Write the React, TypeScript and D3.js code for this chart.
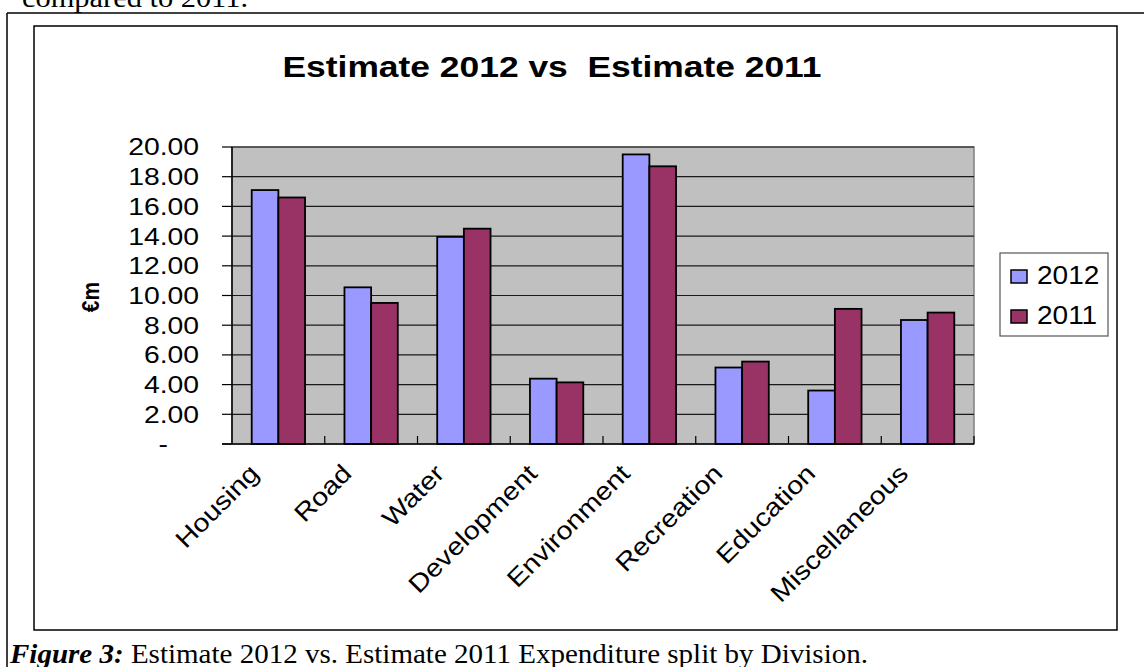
import React from "react";
import * as d3 from "d3";

const categories = ["Housing", "Road", "Water", "Development", "Environment", "Recreation", "Education", "Miscellaneous"];
const values2012 = [17.1, 10.55, 13.95, 4.4, 19.5, 5.15, 3.6, 8.35];
const values2011 = [16.6, 9.5, 14.5, 4.15, 18.7, 5.55, 9.1, 8.85];
const seriesNames = ["2012", "2011"];
const seriesColors = ["#9999FF", "#993366"];
const yTicks = [0, 2, 4, 6, 8, 10, 12, 14, 16, 18, 20];
const titleText = "Estimate 2012 vs  Estimate 2011";
const yAxisLabel = "€m";
const captionBold = "Figure 3:";
const captionRest = " Estimate 2012 vs. Estimate 2011 Expenditure split by Division.";
const topText = "compared to 2011.";

const W = 1144;
const H = 667;
const plot = { left: 232, right: 974, top: 147, bottom: 444 };
const SX = 1.18;
const ARIAL = "Arial, 'Liberation Sans', sans-serif";
const TIMES = "'Times New Roman', 'Liberation Serif', serif";

export default function App() {
  const x = d3.scaleBand<string>().domain(categories).range([plot.left, plot.right]).padding(0);
  const y = d3.scaleLinear().domain([0, 20]).range([plot.bottom, plot.top]);
  const step = x.step();
  const bw = step * 0.2875;
  const groupOffset = (step - 2 * bw) / 2;
  const series = [values2012, values2011];

  return (
    <svg width={W} height={H} style={{ position: "absolute", left: 0, top: 0, background: "#fff" }}>
      {/* page text above */}
      <text x={22} y={7} fontFamily={TIMES} fontSize={27} textLength={226} lengthAdjust="spacingAndGlyphs" fill="#000">
        {topText}
      </text>
      {/* outer page frame */}
      <line x1={7} y1={13} x2={W} y2={13} stroke="#000" strokeWidth={1.5} />
      <line x1={7} y1={13} x2={7} y2={H} stroke="#000" strokeWidth={1.5} />
      {/* chart frame */}
      <rect x={34} y={26} width={1117 - 34} height={630 - 26} fill="#fff" stroke="#000" strokeWidth={1.5} />

      {/* title */}
      <text
        transform={`translate(552,77) scale(${SX},1)`}
        textAnchor="middle"
        fontFamily={ARIAL}
        fontWeight="bold"
        fontSize={30}
        fill="#000"
        style={{ whiteSpace: "pre" }}
      >
        {titleText}
      </text>

      {/* plot area */}
      <rect x={plot.left} y={plot.top} width={plot.right - plot.left} height={plot.bottom - plot.top} fill="#C0C0C0" stroke="#808080" strokeWidth={1.5} />
      {yTicks.filter((t) => t > 0).map((t) => (
        <line key={"g" + t} x1={plot.left} x2={plot.right} y1={y(t)} y2={y(t)} stroke="#1a1a1a" strokeWidth={1.2} />
      ))}

      {/* bars */}
      {categories.map((c, ci) =>
        series.map((vals, si) => (
          <rect
            key={c + si}
            x={(x(c) as number) + groupOffset + si * bw}
            y={y(vals[ci])}
            width={bw}
            height={plot.bottom - y(vals[ci])}
            fill={seriesColors[si]}
            stroke="#000"
            strokeWidth={1.8}
          />
        ))
      )}

      {/* axes */}
      <line x1={plot.left} x2={plot.left} y1={plot.top} y2={plot.bottom} stroke="#000" strokeWidth={1.5} />
      <line x1={plot.left - 10} x2={plot.right} y1={plot.bottom} y2={plot.bottom} stroke="#000" strokeWidth={1.5} />
      {yTicks.map((t) => (
        <line key={"yt" + t} x1={plot.left - 10} x2={plot.left} y1={y(t)} y2={y(t)} stroke="#000" strokeWidth={1.2} />
      ))}
      {categories.map((c, i) =>
        i === 0 ? null : (
          <line key={"xt" + c} x1={x(c) as number} x2={x(c) as number} y1={plot.bottom} y2={plot.bottom - 8} stroke="#000" strokeWidth={1.2} />
        )
      )}
      <line x1={plot.right} x2={plot.right} y1={plot.bottom} y2={plot.bottom - 8} stroke="#000" strokeWidth={1.2} />

      {/* y tick labels */}
      {yTicks.map((t) => (
        <text
          key={"yl" + t}
          transform={`translate(${t === 0 ? 168 : 199},${y(t)}) scale(${SX},1)`}
          textAnchor="end"
          dy="0.35em"
          fontFamily={ARIAL}
          fontSize={24}
          fill="#000"
        >
          {t === 0 ? "-" : t.toFixed(2)}
        </text>
      ))}

      {/* y axis label */}
      <text
        transform={`translate(90,297) scale(${SX},1) rotate(-90)`}
        textAnchor="middle"
        dy="0.35em"
        fontFamily={ARIAL}
        fontWeight="bold"
        fontSize={21}
        fill="#000"
      >
        {yAxisLabel}
      </text>

      {/* x labels */}
      {categories.map((c) => (
        <text
          key={"xl" + c}
          transform={`translate(${(x(c) as number) + step / 2 - 18},475) rotate(-45) scale(1.15,1)`}
          textAnchor="end"
          fontFamily={ARIAL}
          fontSize={25}
          fill="#000"
        >
          {c}
        </text>
      ))}

      {/* legend */}
      <rect x={1000} y={253} width={108} height={83} fill="#fff" stroke="#555" strokeWidth={1.2} />
      {seriesNames.map((s, i) => (
        <g key={"lg" + s}>
          <rect x={1011} y={270 + i * 40} width={16} height={13} fill={seriesColors[i]} stroke="#000" strokeWidth={1.5} />
          <text transform={`translate(1037,${284 + i * 40}) scale(1.12,1)`} fontFamily={ARIAL} fontSize={25} fill="#000">
            {s}
          </text>
        </g>
      ))}

      {/* caption */}
      <text x={10} y={663} fontFamily={TIMES} fontSize={27} textLength={858} lengthAdjust="spacingAndGlyphs" fill="#000" style={{ whiteSpace: "pre" }}>
        <tspan fontWeight="bold" fontStyle="italic">{captionBold}</tspan>
        <tspan>{captionRest}</tspan>
      </text>
    </svg>
  );
}
